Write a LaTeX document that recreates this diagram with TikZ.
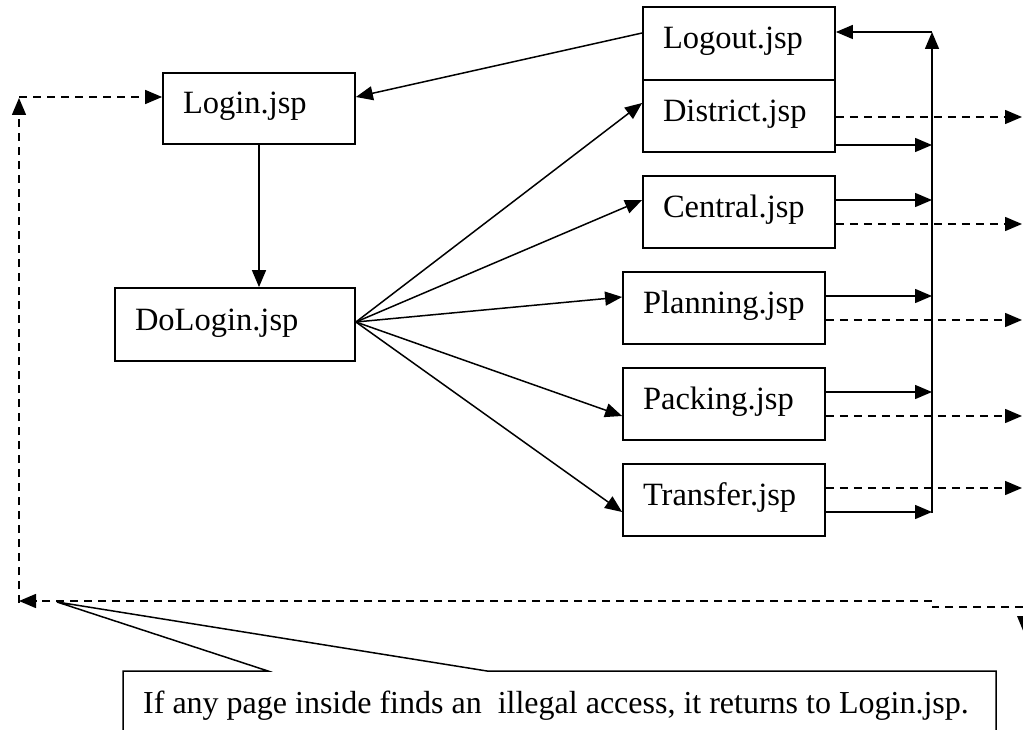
\documentclass[tikz,border=0pt]{standalone}
\usepackage{fontspec}
\setmainfont{Liberation Serif}
\usetikzlibrary{arrows.meta}
\begin{document}
\begin{tikzpicture}[x=1pt,y=-1pt,
  box/.style={draw,line width=1.8pt,rectangle,inner ysep=0pt,inner xsep=20pt,align=left,
    text height=20pt,text depth=9pt,font=\fontsize{32.5}{38}\selectfont},
  conn/.style={line width=1.5pt,-{Triangle[length=17pt,width=14pt]}},
  dconn/.style={conn,dash pattern=on 8pt off 6pt},
  dline/.style={line width=1.5pt,dash pattern=on 8pt off 6pt},
  sline/.style={line width=1.5pt},
]
\useasboundingbox (0,0) rectangle (1023,730);
\clip (0,0) rectangle (1023,730);

% boxes
\node[box,minimum height=71pt,text width=152pt] (login) at (259,108.5) {Login.jsp};
\node[box,minimum height=73pt,text width=200pt] (dologin) at (235,324.5) {DoLogin.jsp};
\node[box,minimum height=73pt,text width=152pt] (logout) at (739,43.5) {Logout.jsp};
\node[box,minimum height=72pt,text width=152pt] (district) at (739,116) {District.jsp};
\node[box,minimum height=72pt,text width=152pt] (central) at (739,212) {Central.jsp};
\node[box,minimum height=72pt,text width=162pt] (planning) at (724,308) {Planning.jsp};
\node[box,minimum height=72pt,text width=162pt] (packing) at (724,404) {Packing.jsp};
\node[box,minimum height=72pt,text width=162pt] (transfer) at (724,500) {Transfer.jsp};

% logout -> login
\draw[conn] ([yshift=10.5pt]logout.west) -- ([yshift=11.5pt]login.east);
% login -> dologin
\draw[conn] (login.south) -- (login.south |- dologin.north);
% fan
\coordinate (fan) at ([yshift=2.5pt]dologin.east);
\draw[conn] (fan) -- ([yshift=13pt]district.west);
\draw[conn] (fan) -- ([yshift=12pt]central.west);
\draw[conn] (fan) -- ([yshift=11pt]planning.west);
\draw[conn] (fan) -- ([yshift=-12pt]packing.west);
\draw[conn] (fan) -- ([yshift=-12pt]transfer.west);

% right bus
\coordinate (bustop) at (932,32);
\coordinate (busbot) at (932,513);
\draw[conn] (busbot) -- (bustop);
\draw[conn] (bustop) -- (bustop -| logout.east);

\coordinate (dS) at ([yshift=-29pt]district.east);
\coordinate (cS) at ([yshift=12pt]central.east);
\coordinate (plS) at ([yshift=12pt]planning.east);
\coordinate (paS) at ([yshift=12pt]packing.east);
\coordinate (tS) at ([yshift=-12pt]transfer.east);
\draw[conn] (dS) -- (dS -| bustop);
\draw[conn] (cS) -- (cS -| bustop);
\draw[conn] (plS) -- (plS -| bustop);
\draw[conn] (paS) -- (paS -| bustop);
\draw[conn] (tS) -- (tS -| bustop);

% dashed outgoing
\coordinate (rx) at (1022,0);
\coordinate (dD) at ([yshift=-1pt]district.east);
\coordinate (cD) at ([yshift=-12pt]central.east);
\coordinate (plD) at ([yshift=-12pt]planning.east);
\coordinate (paD) at ([yshift=-12pt]packing.east);
\coordinate (tD) at ([yshift=12pt]transfer.east);
\draw[dconn] (dD) -- (dD -| rx);
\draw[dconn] (cD) -- (cD -| rx);
\draw[dconn] (plD) -- (plD -| rx);
\draw[dconn] (paD) -- (paD -| rx);
\draw[dconn] (tD) -- (tD -| rx);

% left return loop
\coordinate (lb) at (19,601);
\coordinate (lt) at (19,98);
\coordinate (lin) at ([yshift=11.5pt]login.west);
\draw[dconn] ([yshift=-2pt]lb) -- (lt);
\draw[dconn] (lin -| lt) -- (lin);

% bottom return line
\coordinate (bs) at (932,601);
\coordinate (bs2) at (932,607);
\coordinate (bre) at (1023,607);
\draw[dconn] (bs) -- (lb);
\draw[dline] (bre) -- (bs2);
\fill (1017,616) -- (1031,616) -- (1024,633) -- cycle;

% callout
\coordinate (tip) at (57,602);
\draw[sline] (123,745) -- (123,671) -- (268,671) -- (tip) -- (487,671) -- (996,671) -- (996,745);
\node[anchor=base west,inner sep=0pt,font=\fontsize{32}{38}\selectfont] (note) at (143,713)
  {If any page inside finds an\ \ illegal access, it returns to Login.jsp.};
\end{tikzpicture}
\end{document}
